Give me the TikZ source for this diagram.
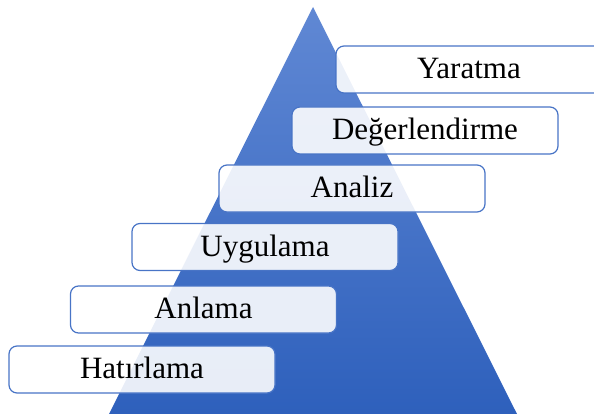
\documentclass[tikz,border=0pt]{standalone}
\usepackage{fontspec}
\setmainfont{Liberation Serif}
\definecolor{pyrtop}{RGB}{96,136,212}
\definecolor{pyrbot}{RGB}{46,96,188}
\definecolor{boxline}{RGB}{72,116,198}
\tikzset{
  levelbox/.style={draw=boxline, line width=1.2pt, fill=white, fill opacity=0.89, text opacity=1,
    rounded corners=8pt, minimum width=266pt, minimum height=47pt, inner sep=0pt,
    text height=22pt, text depth=4pt, font=\fontsize{31}{36}\selectfont, text=black}
}
\begin{document}
\begin{tikzpicture}[x=1pt,y=-1pt]
\useasboundingbox (0,0) rectangle (594,414);
\clip (0,0) rectangle (594,414);
\shade[top color=pyrtop, bottom color=pyrbot] (313,7) -- (517,414) -- (109,414) -- cycle;
\node[levelbox] (yaratma) at (469,69.5) {Yaratma};
\node[levelbox] (deger) at (425,130.5) {Değerlendirme};
\node[levelbox] (analiz) at (352,188.5) {Analiz};
\node[levelbox] (uygulama) at (265,247) {Uygulama};
\node[levelbox] (anlama) at (203.5,309.5) {Anlama};
\node[levelbox] (hatirlama) at (142,369.5) {Hatırlama};
\end{tikzpicture}
\end{document}
